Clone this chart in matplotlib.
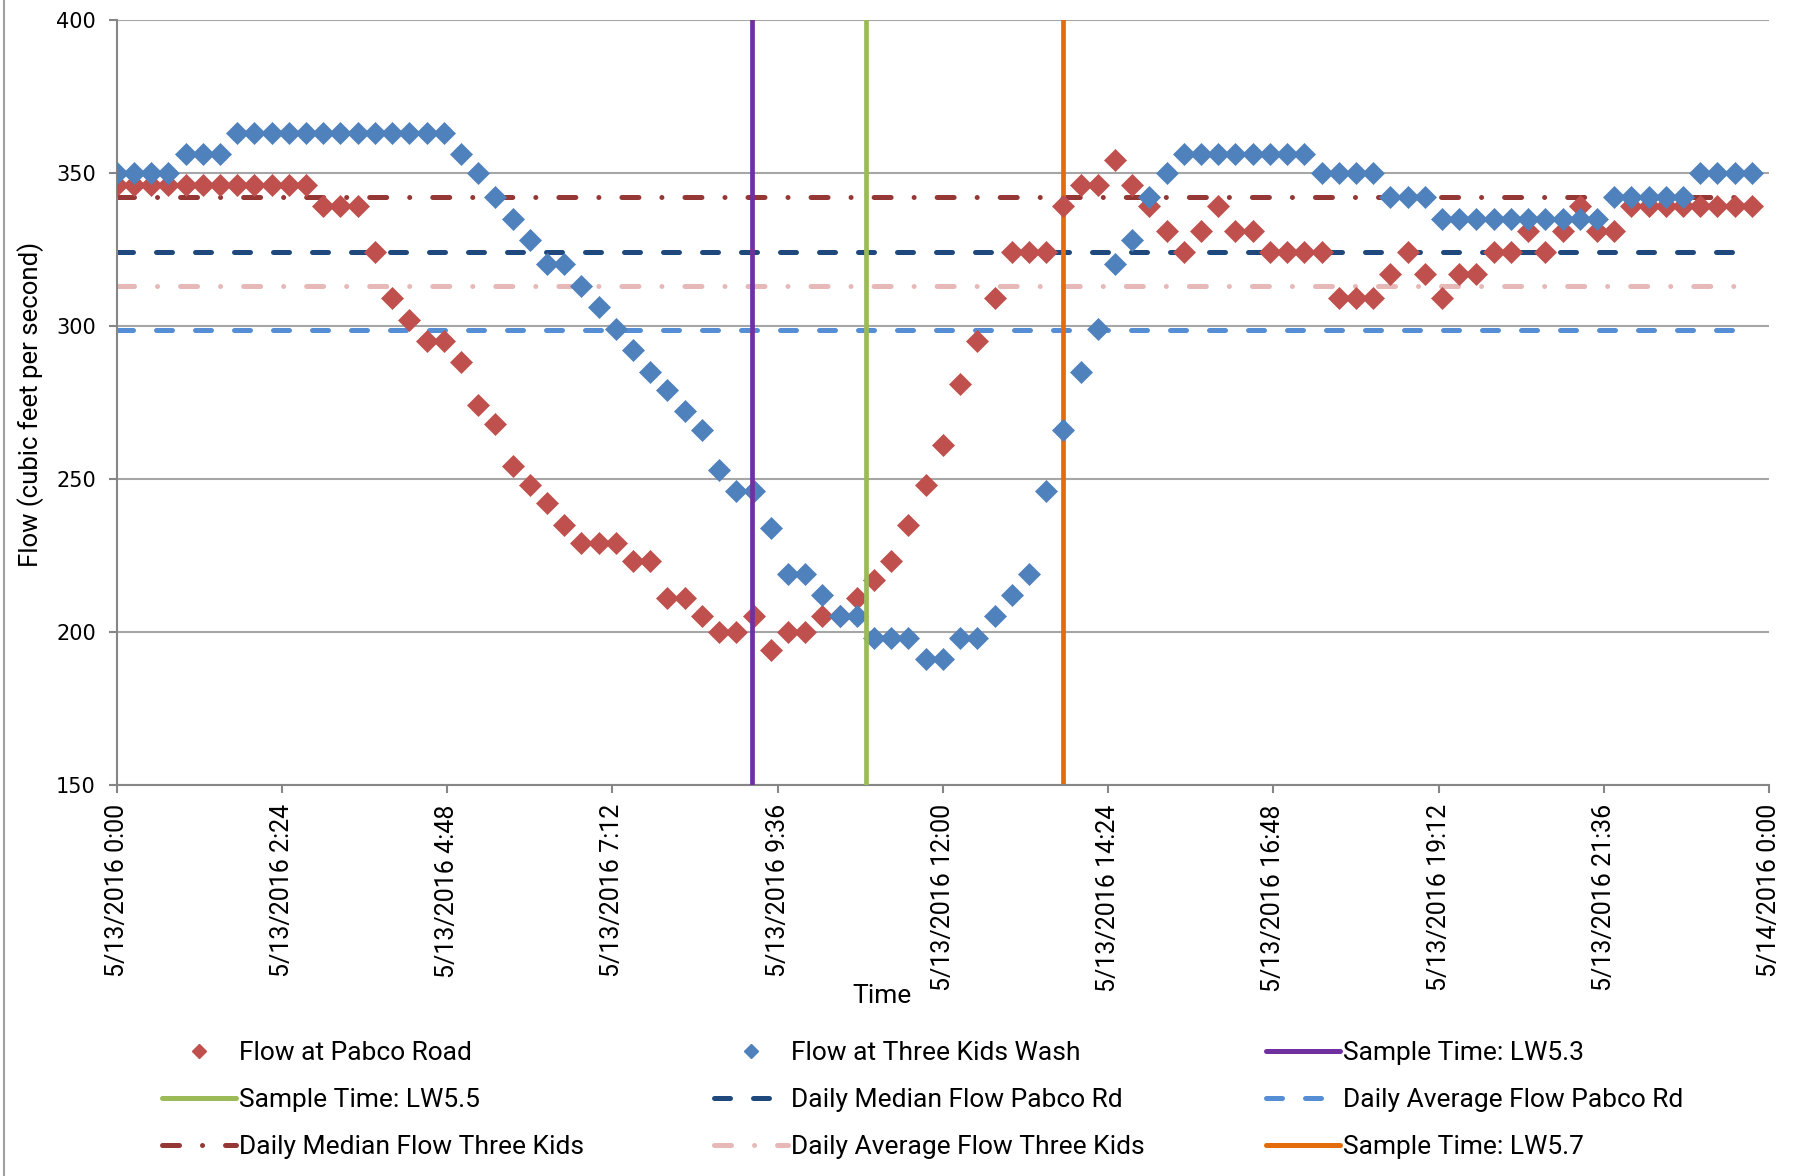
import numpy as np
import matplotlib
matplotlib.use('Agg')
import matplotlib.pyplot as plt
from matplotlib.lines import Line2D
from matplotlib import font_manager

avail = {f.name for f in font_manager.fontManager.ttflist}
NARROW = 'Liberation Sans Narrow' if 'Liberation Sans Narrow' in avail else 'Roboto'
plt.rcParams['font.family'] = [NARROW, 'DejaVu Sans']

# 15-minute flow readings, 5/13/2016 0:00 .. 23:45 (cfs)
pabco_flow = [346, 346, 346, 346, 346, 346, 346, 346, 346, 346, 346, 346,
              339, 339, 339, 324, 309, 302, 295, 295, 288, 274, 268, 254,
              248, 242, 235, 229, 229, 229, 223, 223, 211, 211, 205, 200,
              200, 205, 194, 200, 200, 205, 205, 211, 217, 223, 235, 248,
              261, 281, 295, 309, 324, 324, 324, 339, 346, 346, 354, 346,
              339, 331, 324, 331, 339, 331, 331, 324, 324, 324, 324, 309,
              309, 309, 317, 324, 317, 309, 317, 317, 324, 324, 331, 324,
              331, 339, 331, 331, 339, 339, 339, 339, 339, 339, 339, 339]
three_kids_flow = [350, 350, 350, 350, 356, 356, 356, 363, 363, 363, 363, 363,
                   363, 363, 363, 363, 363, 363, 363, 363, 356, 350, 342, 335,
                   328, 320, 320, 313, 306, 299, 292, 285, 279, 272, 266, 253,
                   246, 246, 234, 219, 219, 212, 205, 205, 198, 198, 198, 191,
                   191, 198, 198, 205, 212, 219, 246, 266, 285, 299, 320, 328,
                   342, 350, 356, 356, 356, 356, 356, 356, 356, 356, 350, 350,
                   350, 350, 342, 342, 342, 335, 335, 335, 335, 335, 335, 335,
                   335, 335, 335, 342, 342, 342, 342, 342, 350, 350, 350, 350]

# daily statistics (cfs)
median_pabco = 324
average_pabco = 298.5
median_three_kids = 342
average_three_kids = 313

# sample times in hours after midnight
sample_lw53 = 9.23
sample_lw55 = 10.89
sample_lw57 = 13.75

tick_hours = [0, 2.4, 4.8, 7.2, 9.6, 12, 14.4, 16.8, 19.2, 21.6, 24]
tick_labels = ['5/13/2016 0:00', '5/13/2016 2:24', '5/13/2016 4:48',
               '5/13/2016 7:12', '5/13/2016 9:36', '5/13/2016 12:00',
               '5/13/2016 14:24', '5/13/2016 16:48', '5/13/2016 19:12',
               '5/13/2016 21:36', '5/14/2016 0:00']

t = np.arange(len(pabco_flow)) * 0.25
span = [t[0], t[-1]]

RED = '#C0504D'
BLUE = '#4F81BD'
NAVY = '#1F497D'
LTBLUE = '#558ED5'
DKRED = '#953735'
PINK = '#E6B9B8'
PURPLE = '#7030A0'
GREEN = '#9BBB59'
ORANGE = '#E46C0A'

dash = (0, (3.2, 4.6))
dashdot = (0, (3.4, 4.6, 0.01, 4.6))
LW = 3.6

fig = plt.figure(figsize=(18.12, 11.76), dpi=100)
ax = fig.add_axes([0.0644, 0.3327, 0.9119, 0.6506])

ax.plot(span, [median_pabco] * 2, color=NAVY, lw=LW, ls=dash, dash_capstyle='round', zorder=2)
ax.plot(span, [average_pabco] * 2, color=LTBLUE, lw=LW, ls=dash, dash_capstyle='round', zorder=2)
ax.plot(span, [median_three_kids] * 2, color=DKRED, lw=LW, ls=dashdot, dash_capstyle='round', zorder=2)
ax.plot(span, [average_three_kids] * 2, color=PINK, lw=LW, ls=dashdot, dash_capstyle='round', zorder=2)

ax.plot(t, pabco_flow, 'D', color=RED, ms=11, mec=RED, mew=0.5, zorder=3)
ax.plot(t, three_kids_flow, 'D', color=BLUE, ms=11, mec=BLUE, mew=0.5, zorder=4)

ax.axvline(sample_lw53, color=PURPLE, lw=3.4, zorder=5)
ax.axvline(sample_lw55, color=GREEN, lw=3.4, zorder=5)
ax.axvline(sample_lw57, color=ORANGE, lw=3.4, zorder=2.5)

ax.set_xlim(0, 24)
ax.set_ylim(150, 400)
ax.set_yticks([150, 200, 250, 300, 350, 400])
ax.set_xticks(tick_hours)
ax.set_xticklabels(tick_labels, rotation=90, fontsize=18, va='top', ha='center')
for lab in ax.get_yticklabels():
    lab.set_fontfamily('DejaVu Sans')
    lab.set_fontsize(15)

ax.yaxis.grid(True, color='#A6A6A6', lw=1.5)
ax.set_axisbelow(True)
for s in ['top', 'right']:
    ax.spines[s].set_visible(False)
for s in ['left', 'bottom']:
    ax.spines[s].set_color('#868686')
    ax.spines[s].set_linewidth(1.5)
ax.tick_params(axis='both', color='#868686', width=1.5, length=6, direction='out')
ax.tick_params(axis='x', pad=8)
ax.tick_params(axis='y', pad=9)

fig.text(882 / 1812, 1 - 996 / 1176, 'Time', ha='center', va='center', fontsize=19)
fig.text(31 / 1812, 1 - 404 / 1176, 'Flow (cubic feet per second)', rotation=90,
         ha='center', va='center', fontsize=18.5)

# legend: three columns placed individually
def h_marker(c):
    return Line2D([], [], ls='none', marker='D', color=c, ms=7.5)

def h_line(c, ls=(0, ())):
    return Line2D([], [], color=c, lw=LW, ls=ls, dash_capstyle='round', solid_capstyle='round')

cols = [
    ([h_marker(RED), h_line(GREEN), h_line(DKRED, dashdot)],
     ['Flow at Pabco Road', 'Sample Time: LW5.5', 'Daily Median Flow Three Kids'], 162),
    ([h_marker(BLUE), h_line(NAVY, dash), h_line(PINK, dashdot)],
     ['Flow at Three Kids Wash', 'Daily Median Flow Pabco Rd', 'Daily Average Flow Three Kids'], 714),
    ([h_line(PURPLE), h_line(LTBLUE, dash), h_line(ORANGE)],
     ['Sample Time: LW5.3', 'Daily Average Flow Pabco Rd', 'Sample Time: LW5.7'], 1266),
]
for handles, labels, x0 in cols:
    fig.legend(handles, labels, loc='upper left', bbox_to_anchor=(x0 / 1812, 1 - 1041 / 1176),
               frameon=False, fontsize=19, handlelength=2.8, handletextpad=0.12,
               labelspacing=0.87, borderpad=0, borderaxespad=0)

fig.add_artist(Line2D([0.002, 0.002], [0, 1], color='#A0A0A0', lw=1.5))

fig.savefig('out.png', dpi=100)
